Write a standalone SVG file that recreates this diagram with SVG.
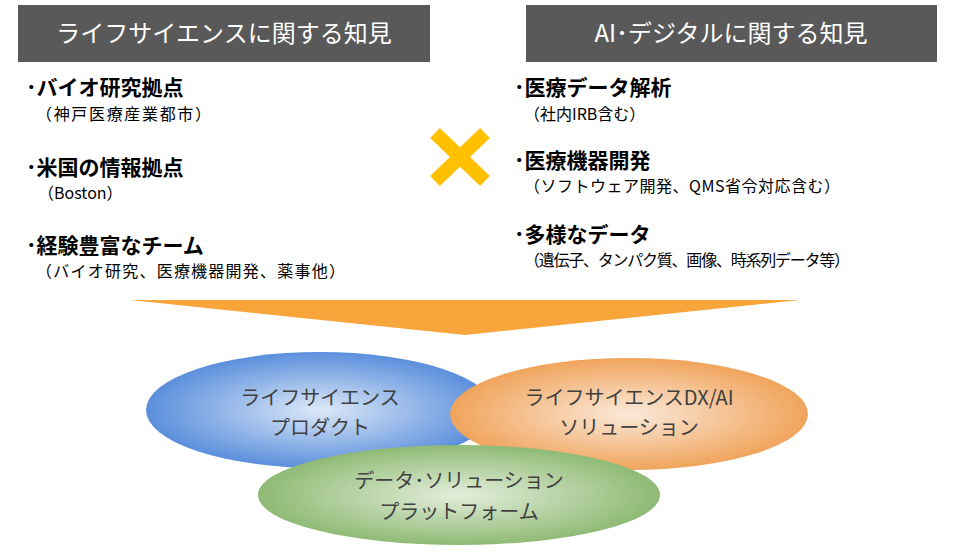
<svg xmlns="http://www.w3.org/2000/svg" width="960" height="554" viewBox="0 0 960 554">
<style>
text{font-family:"Noto Sans CJK JP","Noto Sans",sans-serif;fill:#000}
.h{fill:#fff;font-size:24px}
.b{font-size:21px;font-weight:bold}
.s{font-size:16px}
.e{font-size:20px;fill:#404040;text-anchor:middle}
</style>
<defs>
<radialGradient id="gb"><stop offset="0" stop-color="#dce8f8"/><stop offset="1" stop-color="#5b8fdc"/></radialGradient>
<radialGradient id="go"><stop offset="0" stop-color="#fbe9da"/><stop offset="1" stop-color="#f0a45c"/></radialGradient>
<radialGradient id="gg"><stop offset="0" stop-color="#e3eedb"/><stop offset="1" stop-color="#8fba75"/></radialGradient>
</defs>
<rect width="960" height="554" fill="#fff"/>
<g id="left-header"><rect x="18" y="5" width="412" height="57" fill="#595959"/><text class="h" x="224" y="42" text-anchor="middle">ライフサイエンスに関する知見</text></g>
<g id="right-header"><rect x="526" y="5" width="411" height="57" fill="#595959"/><text class="h" x="731" y="42" text-anchor="middle">AI･デジタルに関する知見</text></g>
<g id="left-list">
<text class="b" x="26" y="95">･バイオ研究拠点</text><text class="s" x="36" y="120" textLength="175">（神戸医療産業都市）</text>
<text class="b" x="26" y="175">･米国の情報拠点</text><text class="s" x="38" y="199">（Boston）</text>
<text class="b" x="26" y="253">･経験豊富なチーム</text><text class="s" x="36" y="277" textLength="309">（バイオ研究、医療機器開発、薬事他）</text>
</g>
<g id="right-list">
<text class="b" x="514" y="95">･医療データ解析</text><text class="s" x="524" y="120">（社内IRB含む）</text>
<text class="b" x="514" y="168">･医療機器開発</text><text class="s" x="524" y="192" textLength="316">（ソフトウェア開発、QMS省令対応含む）</text>
<text class="b" x="514" y="242">･多様なデータ</text><text class="s" x="524" y="266" textLength="326">（遺伝子、タンパク質、画像、時系列データ等）</text>
</g>
<g id="cross"><path d="M435 133 L485 181 M485 133 L435 181" stroke="#ffc000" stroke-width="14"/></g>
<g id="connectors"><polygon points="130,300 800,300 465,335" fill="#f8a53c"/></g>
<g id="product"><ellipse cx="320" cy="410" rx="174" ry="58" fill="url(#gb)"/><text class="e" x="320" y="405">ライフサイエンス</text><text class="e" x="320" y="435">プロダクト</text></g>
<g id="dxai"><ellipse cx="629" cy="414" rx="179" ry="56" fill="url(#go)"/><text class="e" x="629" y="405">ライフサイエンスDX/AI</text><text class="e" x="629" y="435">ソリューション</text></g>
<g id="platform"><ellipse cx="459" cy="495" rx="201" ry="50" fill="url(#gg)"/><text class="e" x="459" y="488">データ･ソリューション</text><text class="e" x="459" y="519">プラットフォーム</text></g>
</svg>
